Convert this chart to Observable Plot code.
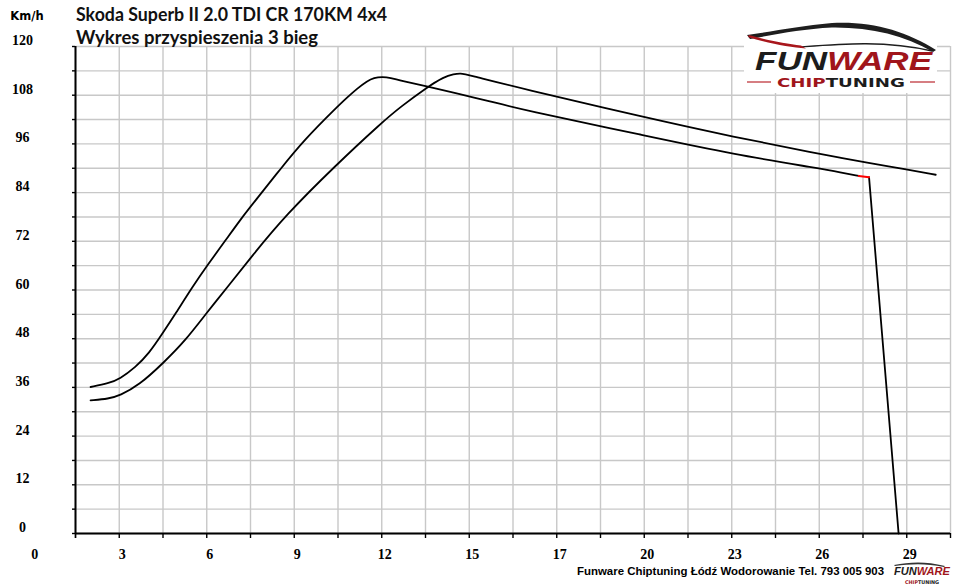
<!DOCTYPE html>
<html><head><meta charset="utf-8">
<script src="https://cdn.jsdelivr.net/npm/d3@7"></script>
<script src="https://cdn.jsdelivr.net/npm/@observablehq/plot@0.6"></script>
<style>
body{margin:0;background:#fff}
#wrap{position:relative;width:960px;height:588px;overflow:hidden;background:#fff}
#wrap > svg{position:absolute;left:0;top:0}
</style></head><body><div id="wrap"></div>
<script>
// Curve A (faster run, ends with red marker then drop)
const timeA  = [1.95,2.55,2.92,3.44,3.88,4.36,4.76,5.32,5.81,6.42,6.97,7.42,8.25,9.02,10.12,10.45,10.78,11.12,11.34,11.62,11.89,12.22,13.11,14.10,15.2,16.2,20.29,23.27,26.14,26.8,27.41];
const speedA = [36.1,37.0,38.1,41.0,44.3,49.6,54.1,60.7,66.0,72.2,77.9,82.1,89.9,96.9,105.1,107.4,109.6,111.5,112.3,112.5,112.3,111.6,110.2,108.4,106.5,104.5,98.1,93.4,89.9,89.0,88.1];
const redTime  = [27.41,27.75];
const redSpeed = [88.1,87.8];
const dropTime  = [27.75,28.73];
const dropSpeed = [87.8,0];
// Curve B
const timeB  = [1.95,2.55,2.92,3.55,4.36,5.10,5.81,6.53,7.27,8.41,10.07,11.62,12.22,13.11,13.66,13.99,14.21,14.43,16.2,20.29,23.27,26.14,26.8,27.58,29.01,29.96];
const speedB = [32.8,33.2,34.0,36.5,42.0,47.6,54.5,61.1,68.1,78.4,90.7,101.4,105.1,110.0,112.5,113.2,113.4,113.1,109.7,102.6,97.7,93.5,92.6,91.5,89.7,88.4];
// axes
const xStep = 1.45;
const xTickLabelValues = [0,2.9,5.8,8.7,11.6,14.5,17.4,20.3,23.2,26.1,29.0];
const xTickLabels = ["0","3","6","9","12","15","17","20","23","26","29"];
const yTickLabels = [0,12,24,36,48,60,72,84,96,108,120];
const yGrid = [0,6,12,18,24,30,36,42,48,54,60,66,72,78,84,90,96,102,108,114,120];
const xGrid = d3.range(0,21).map(i => xStep*(i+1));

const rows = (t,v) => t.map((d,i)=>({t:d, v:v[i]}));
const serif = "Liberation Serif";
const gridColor = "#c8c8c8";

const chart = Plot.plot({
  width:960, height:588,
  marginLeft:75, marginRight:10, marginTop:46, marginBottom:55,
  x:{domain:[xStep, xStep*21], axis:null},
  y:{domain:[0,120], axis:null},
  marks:[
    Plot.ruleX(xGrid, {x:d=>d, stroke:gridColor, strokeWidth:1.4}),
    Plot.ruleY(yGrid, {y:d=>d, stroke:gridColor, strokeWidth:1.4}),
    Plot.axisX({ticks:xGrid.concat([xStep]), tickSize:5, tickFormat:()=>"", label:null, stroke:"#000", strokeWidth:1.4}),
    Plot.axisY({ticks:yGrid, tickSize:3, tickFormat:()=>"", label:null, stroke:"#000", strokeWidth:1.4}),
    Plot.ruleX([xStep], {x:d=>d, stroke:"#000", strokeWidth:2}),
    Plot.ruleY([0], {y:d=>d, stroke:"#000", strokeWidth:2}),
    Plot.text(xTickLabelValues, {x:d=>d, text:(d,i)=>xTickLabels[i], frameAnchor:"bottom", lineAnchor:"bottom", dy:25, dx:3,
      fontFamily:serif, fontWeight:"bold", fontSize:14, fill:"#000"}),
    Plot.text(yTickLabels, {y:d=>d, text:d=>String(d), frameAnchor:"left", dx:-53, textAnchor:"middle", lineAnchor:"bottom", dy:-1.5,
      fontFamily:serif, fontWeight:"bold", fontSize:14, fill:"#000"}),
    Plot.line(rows(timeB,speedB), {x:"t", y:"v", stroke:"#000", strokeWidth:1.8, curve:"basis"}),
    Plot.line(rows(timeA,speedA), {x:"t", y:"v", stroke:"#000", strokeWidth:1.8, curve:"basis"}),
    Plot.line(rows(dropTime,dropSpeed), {x:"t", y:"v", stroke:"#000", strokeWidth:1.8}),
    Plot.line(rows(redTime,redSpeed), {x:"t", y:"v", stroke:"#ff0000", strokeWidth:2})
  ]
});
const wrap = document.getElementById("wrap");
wrap.appendChild(chart);

const ov = `<svg xmlns="http://www.w3.org/2000/svg" width="960" height="588" style="pointer-events:none;background:none">
 <text x="27" y="20" text-anchor="middle" font-family="DejaVu Sans" font-weight="bold" font-size="11.5" fill="#000">Km/h</text>
 <text x="76" y="21" textLength="311" lengthAdjust="spacingAndGlyphs" font-family="Lato" font-weight="bold" font-size="18" fill="#111">Skoda Superb II 2.0 TDI CR 170KM 4x4</text>
 <text x="76" y="44" textLength="242" lengthAdjust="spacingAndGlyphs" font-family="Lato" font-weight="bold" font-size="18" fill="#111">Wykres przyspieszenia 3 bieg</text>
 <g>
  <rect x="744" y="31" width="193" height="62" fill="#fff"/>
  <path d="M747,35 C775,31 800,26 832,23 C872,21 906,31 936,50 L933,52 C904,35 870,27 832,27.5 C802,29 778,34 750,39 Z" fill="#1e1e1e"/>
  <path d="M800,47 C840,44 885,40 932,51" fill="none" stroke="#1e1e1e" stroke-width="1.3"/>
  <path d="M748,37 C770,44 790,47 806,48.5 L801,45.5 C786,43.5 766,40 749,35 Z" fill="#a8161c"/>
  <text x="755" y="70" textLength="177" lengthAdjust="spacingAndGlyphs" font-family="Liberation Sans" font-style="italic" font-weight="bold" font-size="25"><tspan fill="#1c1c1c">FUN</tspan><tspan fill="#a0151b">WARE</tspan></text>
  <line x1="747" y1="82" x2="771" y2="82" stroke="#c0393e" stroke-width="1.3"/>
  <line x1="910" y1="82" x2="935" y2="82" stroke="#c0393e" stroke-width="1.3"/>
  <text x="777" y="87" textLength="128" lengthAdjust="spacingAndGlyphs" font-family="DejaVu Sans" font-weight="bold" font-size="13"><tspan fill="#a0151b">CHIP</tspan><tspan fill="#1c1c1c">TUNING</tspan></text>
 </g>
 <text x="577" y="575" textLength="307" lengthAdjust="spacingAndGlyphs" font-family="Liberation Sans" font-weight="bold" font-size="10.2" fill="#000">Funware Chiptuning Łódź Wodorowanie Tel. 793 005 903</text>
 <g>
  <path d="M894,565 C910,562 925,561 945,566 L944,567 C925,563 910,564 895,566 Z" fill="#333"/>
  <text x="894" y="575" textLength="56" lengthAdjust="spacingAndGlyphs" font-family="Liberation Sans" font-style="italic" font-weight="bold" font-size="10"><tspan fill="#1c1c1c">FUN</tspan><tspan fill="#a0151b">WARE</tspan></text>
  <text x="905" y="583.5" textLength="34" lengthAdjust="spacingAndGlyphs" font-family="DejaVu Sans" font-weight="bold" font-size="5"><tspan fill="#a0151b">CHIP</tspan><tspan fill="#1c1c1c">TUNING</tspan></text>
 </g>
</svg>`;
wrap.insertAdjacentHTML("beforeend", ov);
</script></body></html>
